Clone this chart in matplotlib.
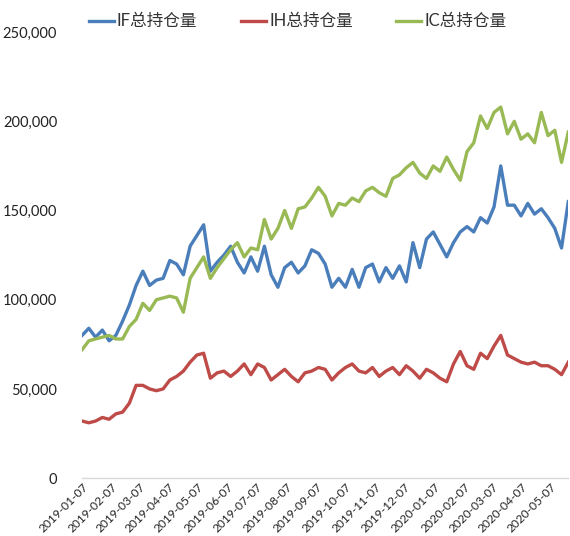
import matplotlib
matplotlib.use("Agg")
import matplotlib.pyplot as plt
import matplotlib.dates as mdates
from matplotlib.ticker import FuncFormatter
import pandas as pd

plt.rcParams["font.family"] = ["Lato", "Noto Sans CJK SC", "DejaVu Sans"]

# weekly samples (Mondays), open interest in thousands of contracts
dates = pd.date_range("2019-01-07", periods=73, freq="W-MON")

if_oi = [80, 84, 79, 83, 77, 80, 88, 97, 108, 116,
         108, 111, 112, 122, 120, 114, 130, 136, 142, 116,
         121, 125, 130, 121, 115, 124, 116, 130, 114, 107,
         118, 121, 115, 119, 128, 126, 120, 107, 112, 107,
         117, 107, 118, 120, 110, 118, 112, 119, 110, 132,
         118, 134, 138, 131, 124, 132, 138, 141, 138, 146,
         143, 152, 175, 153, 153, 147, 154, 148, 151, 146,
         140, 129, 155]

ih_oi = [32, 31, 32, 34, 33, 36, 37, 42, 52, 52,
         50, 49, 50, 55, 57, 60, 65, 69, 70, 56,
         59, 60, 57, 60, 64, 58, 64, 62, 55, 58,
         61, 57, 54, 59, 60, 62, 61, 55, 59, 62,
         64, 60, 59, 62, 57, 60, 62, 58, 63, 60,
         56, 61, 59, 56, 54, 64, 71, 63, 61, 70,
         67, 74, 80, 69, 67, 65, 64, 65, 63, 63,
         61, 58, 65]

ic_oi = [72, 77, 78, 79, 80, 78, 78, 85, 89, 98,
         94, 100, 101, 102, 101, 93, 112, 118, 124, 112,
         118, 123, 128, 132, 124, 129, 128, 145, 134, 140,
         150, 140, 151, 152, 157, 163, 158, 147, 154, 153,
         157, 155, 161, 163, 160, 158, 168, 170, 174, 177,
         171, 168, 175, 172, 180, 173, 167, 183, 188, 203,
         196, 205, 208, 193, 200, 190, 193, 188, 205, 192,
         195, 177, 194]

labels = ["IF总持仓量", "IH总持仓量", "IC总持仓量"]
colors = ["#4A7EBB", "#BE4B48", "#98B954"]
# month ticks on the 7th
tick_dates = pd.date_range("2019-01-01", "2020-05-01", freq="MS") + pd.Timedelta(days=6)

fig = plt.figure(figsize=(5.7, 5.36), dpi=100)
ax = fig.add_axes([0.144, 0.108, 0.853, 0.832])

for series, lab, col in zip([if_oi, ih_oi, ic_oi], labels, colors):
    ax.plot(dates, [v * 1000 for v in series], color=col, lw=2.4, label=lab)

ax.set_ylim(0, 250000)
ax.set_yticks(range(0, 250001, 50000))
ax.yaxis.set_major_formatter(FuncFormatter(lambda v, p: f"{int(v):,}"))
ax.set_xlim(dates[0], dates[-1])
ax.set_xticks(tick_dates)
ax.xaxis.set_major_formatter(mdates.DateFormatter("%Y-%m-%d"))

for side in ["top", "right", "left"]:
    ax.spines[side].set_visible(False)
ax.spines["bottom"].set_color("#D9D9D9")
ax.spines["bottom"].set_linewidth(1.0)
ax.tick_params(axis="y", length=0, pad=18, labelsize=10.5, labelcolor="#222222")
ax.tick_params(axis="x", length=0, pad=2, labelsize=8.6, labelcolor="#222222")
for t in ax.get_xticklabels():
    t.set_rotation(45)
    t.set_ha("right")
    t.set_rotation_mode("anchor")

fig.legend(loc="center", bbox_to_anchor=(0.522, 0.96), ncol=3, frameon=False,
           fontsize=12, handlelength=1.5, handletextpad=0.2, columnspacing=2.6,
           labelcolor="#333333")

fig.savefig("out.png", dpi=100)
